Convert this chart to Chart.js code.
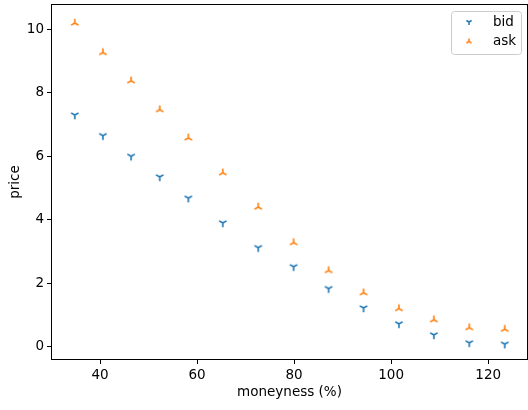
<!DOCTYPE html>
<html>
<head>
<meta charset="utf-8">
<script src="https://cdn.jsdelivr.net/npm/chart.js@4"></script>
<style>
  html, body { margin: 0; padding: 0; background: #fff; }
  #wrap { width: 528px; height: 410px; }
</style>
</head>
<body>
<div id="wrap"><canvas id="priceChart"></canvas></div>
<script>
// moneyness (%) of each strike
const moneyness = [34.8, 40.6, 46.4, 52.3, 58.2, 65.3, 72.6, 79.9, 87.1, 94.3, 101.6, 108.8, 116.1, 123.4];
// quotes
const bid = [7.3, 6.65, 6.0, 5.35, 4.68, 3.9, 3.12, 2.52, 1.83, 1.22, 0.72, 0.37, 0.12, 0.08];
const ask = [10.2, 9.27, 8.38, 7.47, 6.58, 5.48, 4.4, 3.28, 2.4, 1.7, 1.2, 0.85, 0.6, 0.55];
// tick labels
const xTicks = [40, 60, 80, 100, 120];
const yTicks = [0, 2, 4, 6, 8, 10];

const FONT = 'DejaVu Sans';

// matplotlib tri_down / tri_up markers drawn on a small canvas
function triMarker(color, down, r, lw) {
  const c = document.createElement('canvas');
  c.width = 12; c.height = 12;
  const g = c.getContext('2d');
  g.strokeStyle = color;
  g.lineWidth = lw;
  const cx = 6, cy = 6;
  const s = down ? 1 : -1;
  const ends = [[0, r * s], [-r * 0.866, -r * 0.5 * s], [r * 0.866, -r * 0.5 * s]];
  g.beginPath();
  ends.forEach(([dx, dy]) => { g.moveTo(cx, cy); g.lineTo(cx + dx, cy + dy); });
  g.stroke();
  return c;
}

const bidMarker = triMarker('#1f77b4', true, 4.3, 1.6);
const askMarker = triMarker('#ff7f0e', false, 4.3, 1.6);
const legendMarkers = [triMarker('#1f77b4', true, 3, 1.5), triMarker('#ff7f0e', false, 3, 1.5)];

// no extra label overflow padding
function noPad(s) {
  s.paddingTop = 0; s.paddingBottom = 0; s.paddingLeft = 0; s.paddingRight = 0;
}

// frame around the plot + legend box, matplotlib style
const framePlugin = {
  id: 'frame',
  afterDraw(chart) {
    const { ctx, chartArea: a } = chart;
    ctx.save();
    ctx.strokeStyle = '#000';
    ctx.lineWidth = 1;
    ctx.strokeRect(a.left + 0.5, a.top + 0.5, a.right - a.left - 1, a.bottom - a.top - 1);

    // legend
    const bx = a.right - 77, by = a.top + 7, bw = 70, bh = 43;
    ctx.fillStyle = 'rgba(255,255,255,0.8)';
    ctx.strokeStyle = '#cccccc';
    ctx.beginPath();
    ctx.roundRect(bx + 0.5, by + 0.5, bw, bh, 3);
    ctx.fill();
    ctx.stroke();
    ctx.font = '13.5px ' + FONT;
    ctx.fillStyle = '#000';
    ctx.textBaseline = 'middle';
    chart.data.datasets.forEach((ds, i) => {
      const y = by + 11 + i * 19.5;
      ctx.drawImage(legendMarkers[i], bx + 18 - 6, y - 6);
      ctx.fillText(ds.label, bx + 42, y);
    });
    ctx.restore();
  }
};

new Chart(document.getElementById('priceChart'), {
  type: 'scatter',
  data: {
    datasets: [
      {
        label: 'bid',
        data: moneyness.map((m, i) => ({ x: m, y: bid[i] })),
        pointStyle: bidMarker,
        borderColor: '#1f77b4',
        backgroundColor: '#1f77b4'
      },
      {
        label: 'ask',
        data: moneyness.map((m, i) => ({ x: m, y: ask[i] })),
        pointStyle: askMarker,
        borderColor: '#ff7f0e',
        backgroundColor: '#ff7f0e'
      }
    ]
  },
  options: {
    responsive: true,
    maintainAspectRatio: false,
    animation: false,
    devicePixelRatio: 1,
    layout: { autoPadding: false, padding: { top: 4, right: 0, left: 0, bottom: 0 } },
    plugins: {
      legend: { display: false },
      tooltip: { enabled: false }
    },
    scales: {
      x: {
        type: 'linear',
        min: 29.9,
        max: 128.2,
        afterBuildTicks: s => { s.ticks = xTicks.map(v => ({ value: v })); },
        afterFit: s => { s.height = 50; noPad(s); },
        grid: { drawOnChartArea: false, drawTicks: true, tickLength: 4, color: '#000' },
        border: { display: false },
        ticks: { color: '#000', font: { family: FONT, size: 13.5 }, padding: 3 },
        title: {
          display: true,
          text: 'moneyness (%)',
          color: '#000',
          font: { family: FONT, size: 13.5 },
          padding: { top: 0, bottom: 9 }
        }
      },
      y: {
        type: 'linear',
        min: -0.42,
        max: 10.8,
        afterBuildTicks: s => { s.ticks = yTicks.map(v => ({ value: v })); },
        afterFit: s => { s.width = 51; noPad(s); },
        grid: { drawOnChartArea: false, drawTicks: true, tickLength: 4, color: '#000' },
        border: { display: false },
        ticks: { color: '#000', font: { family: FONT, size: 13.5 }, padding: 3 },
        title: {
          display: true,
          text: 'price',
          color: '#000',
          font: { family: FONT, size: 13.5 },
          padding: { top: 7, bottom: 0 }
        }
      }
    }
  },
  plugins: [framePlugin]
});
</script>
</body>
</html>
